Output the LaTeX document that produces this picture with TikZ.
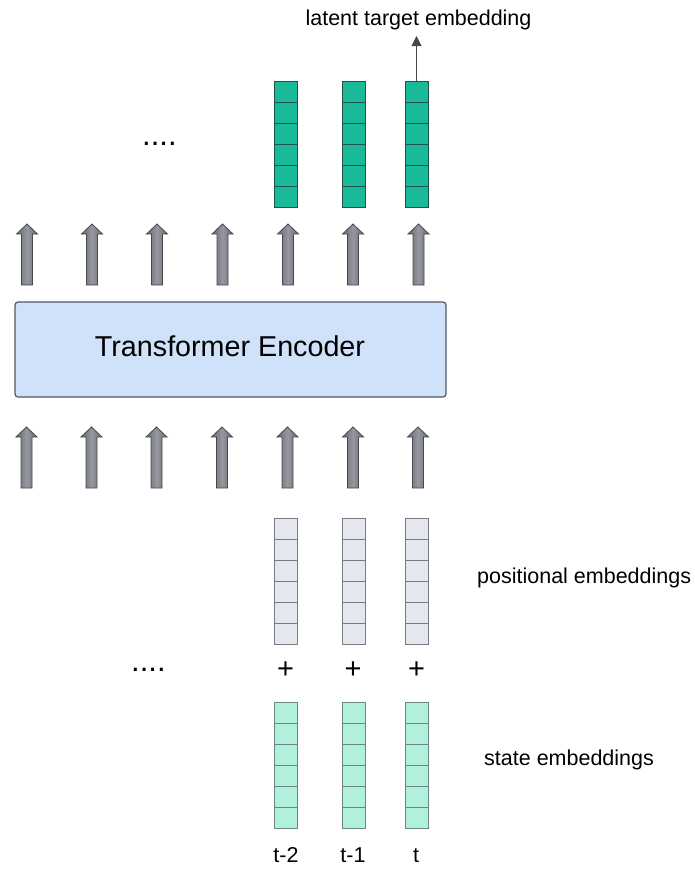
\documentclass[tikz,border=0pt]{standalone}
\usepackage{fontspec}
\setmainfont{Liberation Sans}
\usetikzlibrary{arrows.meta,calc}

\definecolor{latentfill}{RGB}{24,186,152}
\definecolor{latentline}{RGB}{30,84,74}
\definecolor{posfill}{RGB}{229,231,239}
\definecolor{posline}{RGB}{120,122,128}
\definecolor{statefill}{RGB}{178,240,222}
\definecolor{stateline}{RGB}{105,135,128}
\definecolor{encfill}{RGB}{207,226,250}
\definecolor{encline}{RGB}{80,88,100}
\definecolor{arrowdark}{RGB}{70,72,78}
\definecolor{arrowmid}{RGB}{150,152,160}
\definecolor{arrowside}{RGB}{105,107,115}

\tikzset{
  x=1pt, y=-1pt,
  % a column vector of six stacked cells
  vecbox/.style={rectangle, inner sep=0pt, minimum width=23pt, minimum height=126pt,
    line width=0.9pt,
    path picture={
      \foreach \k in {1,...,5}
        \draw[line width=0.8pt, #1]
          ($(path picture bounding box.north west)!\k/6!(path picture bounding box.south west)$) --
          ($(path picture bounding box.north east)!\k/6!(path picture bounding box.south east)$);
    }},
  latvec/.style={vecbox=latentline, draw=latentline, fill=latentfill},
  posvec/.style={vecbox=posline, draw=posline, fill=posfill},
  statevec/.style={vecbox=stateline, draw=stateline, fill=statefill},
  encoder/.style={rectangle, rounded corners=3pt, draw=encline, line width=1.2pt,
    fill=encfill, minimum width=431pt, minimum height=95pt, inner sep=0pt},
  enctitle/.style={inner sep=0pt, font=\fontsize{28.7}{34}\selectfont},
  lbl/.style={inner sep=0pt, font=\fontsize{21.5}{26}\selectfont},
  dots/.style={inner sep=0pt, font=\fontsize{31}{36}\selectfont},
  plus/.style={inner sep=0pt, font=\fontsize{29}{34}\selectfont},
  pics/blockarrow/.style={code={
    \draw[draw=arrowdark, line width=0.8pt, left color=arrowside, right color=arrowside,
          middle color=arrowmid, line join=miter]
      (-5.5,0) -- (-5.5,-51) -- (-10.5,-51) -- (0,-61) -- (10.5,-51) -- (5.5,-51) -- (5.5,0) -- cycle;
  }},
  thinarrow/.style={draw=arrowdark, line width=1pt, -{Triangle[length=10pt,width=10pt]}},
}

\begin{document}
\begin{tikzpicture}
\useasboundingbox (0,0) rectangle (695,873);

% output (latent) vectors
\node[latvec] (lt1) at (285.5,144) {};
\node[latvec] (lt2) at (354,144) {};
\node[latvec] (lt3) at (416.5,144) {};
\node[dots, anchor=base west] (dtop) at (142,145) {....};

% target label and its arrow
\node[lbl, anchor=base] (target) at (418.5,25) {latent target embedding};
\coordinate (targettip) at (416.5,36);
\draw[thinarrow] (lt3.north) -- (targettip);

% arrows leaving the encoder
\foreach \x [count=\i] in {27,92,157,222.5,288,353,418.5}
  \pic (up\i) at (\x,285) {blockarrow};

% encoder block
\node[encoder] (enc) at (230.5,349.5) {};
\node[enctitle, anchor=base] (enctext) at (230,356.5) {Transformer Encoder};

% arrows entering the encoder
\foreach \x [count=\i] in {26.5,91.5,156.5,222,287.5,353,418}
  \pic (in\i) at (\x,488) {blockarrow};

% positional embeddings
\node[posvec] (pe1) at (285.5,581.5) {};
\node[posvec] (pe2) at (354,581.5) {};
\node[posvec] (pe3) at (416.5,581.5) {};
\node[lbl, anchor=base west] (poslbl) at (477,583) {positional embeddings};

% additions
\node[plus] (plus1) at (285.5,670) {+};
\node[plus] (plus2) at (353,670) {+};
\node[plus] (plus3) at (416.5,670) {+};
\node[dots, anchor=base west] (dbot) at (131,671) {....};

% state embeddings
\node[statevec] (se1) at (285.5,765.5) {};
\node[statevec] (se2) at (354,765.5) {};
\node[statevec] (se3) at (416.5,765.5) {};
\node[lbl, anchor=base west] (statelbl) at (484,765) {state embeddings};

% time steps
\node[lbl, anchor=base] (t2) at (286,862) {t-2};
\node[lbl, anchor=base] (t1) at (353,862) {t-1};
\node[lbl, anchor=base] (t0) at (416,862) {t};
\end{tikzpicture}
\end{document}
